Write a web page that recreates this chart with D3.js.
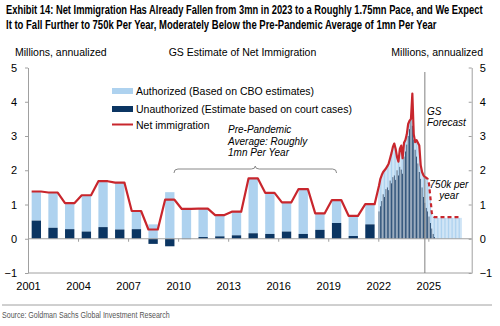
<!DOCTYPE html>
<html>
<head>
<meta charset="utf-8">
<script src="https://cdn.jsdelivr.net/npm/d3@7"></script>
<style>
  body { margin: 0; background: #fff; }
  text { font-family: "Liberation Sans", Arial, sans-serif; fill: #000; }
</style>
</head>
<body>
<svg id="chart" width="500" height="326"></svg>
<script>
// annual estimates, 2001-2021 (millions)
const years = [2001, 2002, 2003, 2004, 2005, 2006, 2007, 2008, 2009, 2010, 2011,
  2012, 2013, 2014, 2015, 2016, 2017, 2018, 2019, 2020, 2021];
const annualAuthorized = [0.85, 1.03, 0.76, 1.06, 1.34, 1.37, 0.53, 0.42, 1.36, 0.88, 0.83,
  0.62, 0.69, 1.60, 1.20, 0.85, 1.31, 0.48, 0.67, 0.59, 0.59];
const annualUnauthorized = [0.53, 0.32, 0.28, 0.21, 0.34, 0.27, 0.28, -0.15, -0.22, -0.01, 0.05,
  0.07, 0.10, 0.16, 0.14, 0.21, 0.14, 0.26, 0.46, 0.08, 0.42];

// monthly, annualized, Jan 2022 - Dec 2026
const monthStart = 2022;
const monthlyAuthorized = [
  0.75, 0.80, 0.76, 0.65, 0.78, 0.60, 0.62, 0.78, 0.65, 0.88, 0.88, 0.93,
  0.90, 0.38, 0.40, 0.52, 0.70, 0.45, 0.40, 0.33, 0.30, 0.35, 0.25, 0.05,
  0.15, 0.15, 0.22, 0.48, 0.60, 0.77, 0.40, 0.45, 0.63, 0.75, 0.88, 0.95,
  0.95, 0.74, 0.45, 0.51, 0.58, 0.61, 0.61, 0.61, 0.61, 0.61, 0.61, 0.61,
  0.61, 0.61, 0.61, 0.61, 0.61, 0.61, 0.61, 0.61, 0.61, 0.61, 0.61, 0.61];
const monthlyUnauthorized = [
  0.80, 0.95, 1.10, 1.30, 1.22, 1.45, 1.50, 1.42, 1.70, 1.62, 1.80, 1.85,
  1.72, 2.00, 1.85, 2.10, 2.02, 1.90, 2.40, 2.55, 2.75, 3.00, 3.20, 3.50,
  3.30, 2.90, 2.60, 2.40, 2.20, 1.95, 1.75, 1.50, 1.22, 1.05, 0.90, 0.80,
  0.65, 0.46, 0.30, 0.14, 0.05, 0, 0, 0, 0, 0, 0, 0,
  0, 0, 0, 0, 0, 0, 0, 0, 0, 0, 0, 0];
const monthlyNet = [
  1.55, 1.75, 1.86, 1.95, 2.00, 2.05, 2.12, 2.20, 2.35, 2.50, 2.68, 2.78,
  2.62, 2.38, 2.25, 2.62, 2.72, 2.35, 2.80, 2.88, 3.05, 3.35, 3.45, 3.50,
  4.24, 3.05, 2.82, 2.88, 2.80, 2.72, 2.15, 1.95, 1.85, 1.80, 1.78, 1.75,
  1.60, 1.20, 0.75, 0.65, 0.63, 0.63, 0.63, 0.63, 0.63, 0.63, 0.63, 0.63,
  0.63, 0.63, 0.63, 0.63, 0.63, 0.63, 0.63, 0.63, 0.63, 0.63, 0.63, 0.63];
const lastActualMonth = 33;   // Oct 2024, forecast after this

const yTicks = [-1, 0, 1, 2, 3, 4, 5];
const xTicks = [2001, 2004, 2007, 2010, 2013, 2016, 2019, 2022, 2025];

const colLight = "#aed2ef", colDark = "#0b3562", colRed = "#c8262d", colAxis = "#a0a0a0";

const svg = d3.select("#chart");
const x = d3.scaleLinear().domain([2001, 2027.6]).range([28, 471.7]);
const y = d3.scaleLinear().domain([-1, 5]).range([273, 67.5]);

// squeeze a text horizontally so it spans the given width
function fitText(sel, x0, y0, width) {
  const natural = sel.node().getComputedTextLength();
  sel.attr("x", 0).attr("y", 0)
    .attr("transform", `translate(${x0},${y0}) scale(${width / natural},1)`);
}

// titles
const title = svg.append("g").attr("font-weight", "bold").attr("font-size", 12.5);
fitText(title.append("text")
  .text("Exhibit 14: Net Immigration Has Already Fallen from 3mn in 2023 to a Roughly 1.75mn Pace, and We Expect"),
  6, 14, 477);
fitText(title.append("text")
  .text("It to Fall Further to 750k Per Year, Moderately Below the Pre-Pandemic Average of 1mn Per Year"),
  6, 29, 431);

svg.append("text").attr("x", 15).attr("y", 56).attr("font-size", 10.5).text("Millions, annualized");
svg.append("text").attr("x", 483).attr("y", 56).attr("font-size", 10.5).attr("text-anchor", "end").text("Millions, annualized");
svg.append("text").attr("x", 242.5).attr("y", 56).attr("font-size", 10.5).attr("text-anchor", "middle").text("GS Estimate of Net Immigration");

// bars
const annualW = 0.56;
const bars = svg.append("g");
years.forEach((yr, i) => {
  const a = annualAuthorized[i], u = annualUnauthorized[i];
  const base = Math.max(u, 0);
  const x0 = x(yr + 0.22), w = x(yr + 0.22 + annualW) - x(yr + 0.22);
  bars.append("rect").attr("x", x0).attr("width", w)
    .attr("y", y(base + a)).attr("height", y(base) - y(base + a)).attr("fill", colLight);
  bars.append("rect").attr("x", x0).attr("width", w)
    .attr("y", y(Math.max(u, 0))).attr("height", Math.abs(y(u) - y(0))).attr("fill", colDark);
});
monthlyAuthorized.forEach((a, m) => {
  const u = monthlyUnauthorized[m];
  const t = monthStart + (m + 0.12) / 12;
  const x0 = x(t), w = x(t + 0.76 / 12) - x(t);
  bars.append("rect").attr("x", x0).attr("width", w)
    .attr("y", y(u + a)).attr("height", y(u) - y(u + a)).attr("fill", colLight);
  // thinner dark bars so the dense months read as a softer slate
  const td = monthStart + (m + 0.2) / 12;
  if (u > 0) bars.append("rect").attr("x", x(td)).attr("width", x(td + 0.6 / 12) - x(td))
    .attr("y", y(u)).attr("height", y(0) - y(u)).attr("fill", colDark);
});

// axes
const zeroAxis = svg.append("g").attr("transform", `translate(0,${y(0)})`)
  .call(d3.axisBottom(x).tickValues(xTicks.slice(1)).tickSize(3).tickSizeOuter(0).tickFormat(""));
const bottomAxis = svg.append("g").attr("transform", `translate(0,${y(-1)})`)
  .call(d3.axisBottom(x).tickValues(xTicks).tickSize(0).tickPadding(9).tickFormat(d3.format("d")));
const leftAxis = svg.append("g").attr("transform", `translate(${x.range()[0]},0)`)
  .call(d3.axisLeft(y).tickValues(yTicks).tickSize(3).tickSizeOuter(0).tickPadding(8).tickFormat(d3.format("d")));
const rightAxis = svg.append("g").attr("transform", `translate(${x.range()[1]},0)`)
  .call(d3.axisRight(y).tickValues(yTicks).tickSize(-3).tickSizeOuter(0).tickPadding(8).tickFormat(d3.format("d")));
[zeroAxis, bottomAxis, leftAxis, rightAxis].forEach(g => {
  g.select(".domain").attr("stroke", colAxis);
  g.selectAll(".tick line").attr("stroke", colAxis);
  g.selectAll(".tick text").attr("font-size", 11).attr("fill", "#000")
    .style("font-family", '"Liberation Sans", Arial, sans-serif');
});
zeroAxis.select(".domain").attr("d", `M${x.range()[0]},0H${x.range()[1]}`);
bottomAxis.select(".domain").attr("d", `M${x.range()[0]},0H${x.range()[1]}`);

// forecast divider
const forecastAt = monthStart + (lastActualMonth + 0.5) / 12;
svg.append("line").attr("x1", x(forecastAt)).attr("x2", x(forecastAt))
  .attr("y1", 72).attr("y2", y(-1)).attr("stroke", "#808080").attr("stroke-width", 1);

// net immigration line
const annualPts = [];
years.forEach((yr, i) => {
  const v = annualAuthorized[i] + annualUnauthorized[i];
  annualPts.push([yr + 0.22, v], [yr + 0.78, v]);
});
const monthPts = monthlyNet.map((v, m) => [monthStart + (m + 0.5) / 12, v]);
const line = d3.line().x(d => x(d[0])).y(d => y(d[1]));
svg.append("path").datum(annualPts.concat(monthPts.slice(0, lastActualMonth + 1)))
  .attr("d", line).attr("fill", "none").attr("stroke", colRed).attr("stroke-width", 2.2)
  .attr("stroke-linejoin", "round");
svg.append("path").datum(monthPts.slice(lastActualMonth))
  .attr("d", line).attr("fill", "none").attr("stroke", colRed).attr("stroke-width", 2.2)
  .attr("stroke-dasharray", "4,3");

// legend
const lg = svg.append("g").attr("font-size", 10.5);
lg.append("rect").attr("x", 112).attr("y", 88).attr("width", 21).attr("height", 6).attr("fill", colLight);
lg.append("text").attr("x", 136).attr("y", 95).text("Authorized (Based on CBO estimates)");
lg.append("rect").attr("x", 112).attr("y", 106).attr("width", 21).attr("height", 6).attr("fill", colDark);
lg.append("text").attr("x", 136).attr("y", 113).text("Unauthorized (Estimate based on court cases)");
lg.append("line").attr("x1", 112).attr("x2", 133).attr("y1", 124.5).attr("y2", 124.5)
  .attr("stroke", colRed).attr("stroke-width", 2);
lg.append("text").attr("x", 136).attr("y", 129).text("Net immigration");

// annotations
const note = svg.append("g").attr("font-size", 10).attr("font-style", "italic");
[["Pre-Pandemic", 133], ["Average: Roughly", 145], ["1mn Per Year", 156]].forEach(([t, yy]) =>
  note.append("text").attr("x", 228).attr("y", yy).text(t));
[["GS", 115], ["Forecast", 126]].forEach(([t, yy]) =>
  note.append("text").attr("x", 427).attr("y", yy).text(t));
note.append("text").attr("x", 449).attr("y", 188).attr("text-anchor", "middle").text("750k per");
note.append("text").attr("x", 449).attr("y", 199).attr("text-anchor", "middle").text("year");

// brace over the pre-pandemic years
const bx0 = x(2009.75), bx1 = x(2019.5), bm = (bx0 + bx1) / 2, by = 169;
svg.append("path")
  .attr("d", `M${bx0},${by + 4}Q${bx0},${by} ${bx0 + 4},${by}L${bm - 4},${by}Q${bm},${by} ${bm},${by - 3}` +
    `Q${bm},${by} ${bm + 4},${by}L${bx1 - 4},${by}Q${bx1},${by} ${bx1},${by + 4}`)
  .attr("fill", "none").attr("stroke", "#888").attr("stroke-width", 1);

// footer
svg.append("line").attr("x1", 2).attr("x2", 492).attr("y1", 305).attr("y2", 305)
  .attr("stroke", "#a0a0a0").attr("stroke-width", 1);
fitText(svg.append("text").attr("font-size", 9).style("fill", "#555")
  .text("Source: Goldman Sachs Global Investment Research"), 2, 318, 168);
</script>
</body>
</html>
